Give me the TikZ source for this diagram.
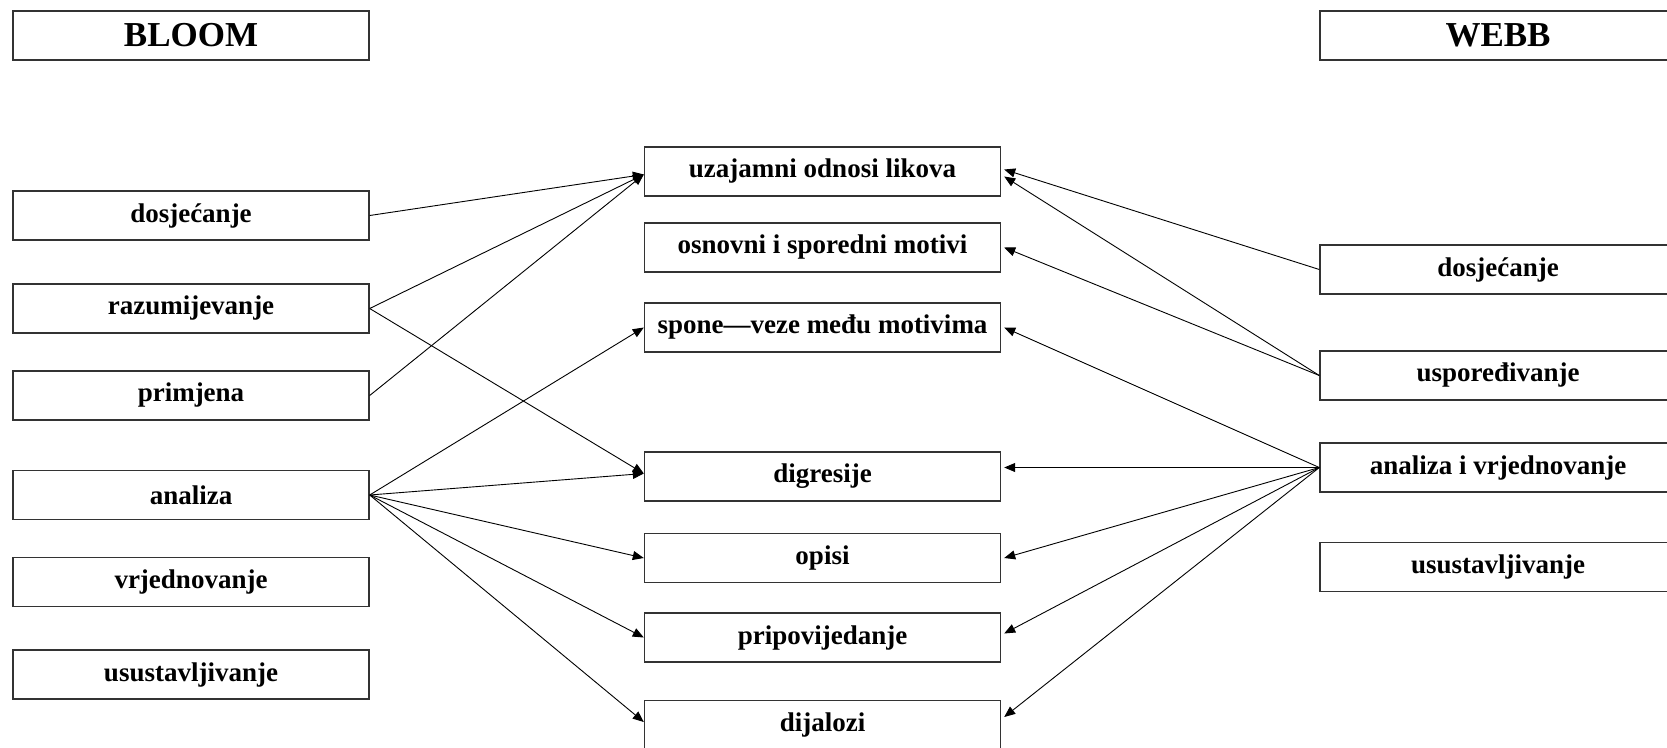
\documentclass[tikz,border=0pt]{standalone}
\usepackage{fontspec}
\setmainfont{Liberation Serif}
\usetikzlibrary{arrows.meta}

\begin{document}
\begin{tikzpicture}[x=1pt,y=-1pt]
\clip (0,0) rectangle (1667,747);
\begin{scope}[every node/.style={rectangle,draw=black!80,line width=1.4pt,fill=white,
              minimum width=356pt,minimum height=49pt,inner sep=0pt,
              font=\bfseries\fontsize{27}{32}\selectfont}]
  % Bloom
  \node[font=\bfseries\fontsize{35}{40}\selectfont] (B) at (191,35.5) {BLOOM};
    \node (B1) at (191,215.5) {dosjećanje};
    \node (B2) at (191,308.5) {razumijevanje};
    \node (B3) at (191,395.5) {primjena};
    \node (B4) at (191,495) {analiza};
    \node (B5) at (191,582) {vrjednovanje};
    \node (B6) at (191,674.5) {usustavljivanje};
  % middle
    \node (M1) at (822.5,171.5) {uzajamni odnosi likova};
    \node (M2) at (822.5,247.5) {osnovni i sporedni motivi};
    \node (M3) at (822.5,327.5) {spone—veze među motivima};
    \node (M4) at (822.5,476.5) {digresije};
    \node (M5) at (822.5,558) {opisi};
    \node (M6) at (822.5,637.5) {pripovijedanje};
    \node (M7) at (822.5,725) {dijalozi};
  % Webb
  \node[font=\bfseries\fontsize{35}{40}\selectfont] (W) at (1498,35.5) {WEBB};
    \node (W1) at (1498,269.5) {dosjećanje};
    \node (W2) at (1498,375.5) {uspoređivanje};
    \node (W3) at (1498,467.5) {analiza i vrjednovanje};
    \node (W4) at (1498,567) {usustavljivanje};
\end{scope}

\begin{scope}[>={Triangle[length=11pt,width=9pt]},
              every edge/.style={draw=black, line width=0.9pt}]
    \path[->] (B1.east) edge ([yshift=-3pt]M1.west);
    \path[->] (B2.east) edge ([yshift=-3pt]M1.west);
    \path[->] (B2.east) edge ([yshift=3pt]M4.west);
    \path[->] (B3.east) edge ([yshift=-3pt]M1.west);
    \path[->] (B4.east) edge (M3.west);
    \path[->] (B4.east) edge ([yshift=3pt]M4.west);
    \path[->] (B4.east) edge (M5.west);
    \path[->] (B4.east) edge (M6.west);
    \path[->] (B4.east) edge ([yshift=3pt]M7.west);
\end{scope}
\begin{scope}[>={Triangle[length=11pt,width=9pt]},
              every edge/.style={draw=black, line width=0.9pt}]
    \path[->] (W1.west) edge ([xshift=3pt,yshift=2pt]M1.east);
    \path[->] (W2.west) edge ([xshift=3pt,yshift=-5pt]M1.east);
    \path[->] (W2.west) edge ([xshift=3pt]M2.east);
    \path[->] (W3.west) edge ([xshift=3pt]M3.east);
    \path[->] (W3.west) edge ([xshift=3pt,yshift=9pt]M4.east);
    \path[->] (W3.west) edge ([xshift=3pt]M5.east);
    \path[->] (W3.west) edge ([xshift=3pt,yshift=4pt]M6.east);
    \path[->] (W3.west) edge ([xshift=3pt,yshift=8pt]M7.east);
\end{scope}

\end{tikzpicture}
\end{document}
